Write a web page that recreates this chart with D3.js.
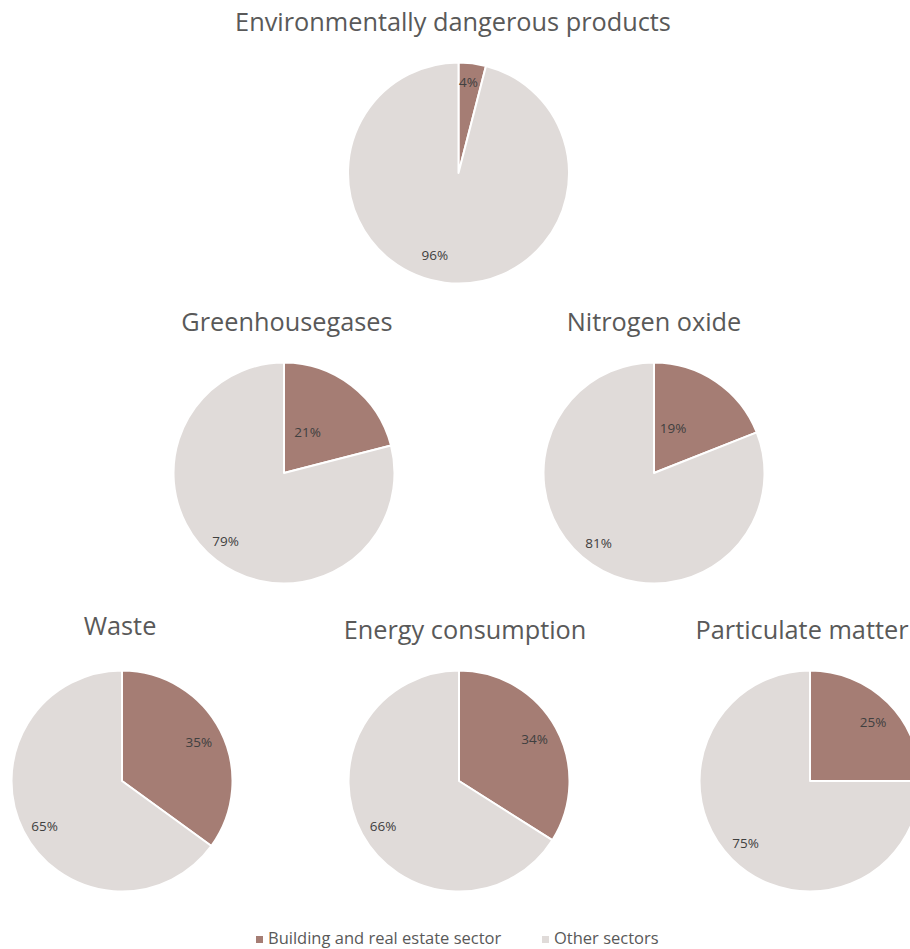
<!DOCTYPE html>
<html>
<head>
<meta charset="utf-8">
<script src="https://cdn.jsdelivr.net/npm/d3@7"></script>
<style>
  html, body { margin: 0; padding: 0; background: #ffffff; }
  svg { display: block; font-family: "Open Sans", "Noto Sans", sans-serif; }
</style>
</head>
<body>
<svg id="chart" width="910" height="949"></svg>
<script>
// Share of emissions / resource use attributed to each sector (percent)
const titles = [
  "Environmentally dangerous products",
  "Greenhousegases",
  "Nitrogen oxide",
  "Waste",
  "Energy consumption",
  "Particulate matter"
];
const buildingShare = [4, 21, 19, 35, 34, 25];
const otherShare = [96, 79, 81, 65, 66, 75];
const seriesNames = ["Building and real estate sector", "Other sectors"];

// Layout: pie centres, title anchors and label placement
const layout = [
  { cx: 458.5, cy: 173, tx: 453, ty: 31 },
  { cx: 284,   cy: 473, tx: 287, ty: 331 },
  { cx: 654,   cy: 473, tx: 654, ty: 331 },
  { cx: 122,   cy: 781, tx: 120, ty: 635 },
  { cx: 459,   cy: 781, tx: 465, ty: 639 },
  { cx: 810,   cy: 781, tx: 802, ty: 639 }
];
const radius = 110.5;
// [radius fraction, angle offset in degrees] for the two labels of each pie
const labelPlace = [
  [[0.83, -1], [0.77, 9]],
  [[0.43, -8], [0.81, 3]],
  [[0.44, -11], [0.81, 4]],
  [[0.78, 0], [0.81, -3]],
  [[0.78, 0], [0.80, -2]],
  [[0.78, 2], [0.81, 1]]
];

const colors = d3.scaleOrdinal().domain(seriesNames).range(["#a57d74", "#e0dbd9"]);
const svg = d3.select("#chart");

const pie = d3.pie().sort(null).value(d => d.value);
const arc = d3.arc().innerRadius(0).outerRadius(radius);

titles.forEach((title, i) => {
  const L = layout[i];
  const data = [
    { name: seriesNames[0], value: buildingShare[i] },
    { name: seriesNames[1], value: otherShare[i] }
  ];
  svg.append("text")
    .attr("x", L.tx).attr("y", L.ty)
    .attr("text-anchor", "middle")
    .attr("font-size", 25.3)
    .attr("fill", "#595959")
    .text(title);

  const g = svg.append("g").attr("transform", `translate(${L.cx},${L.cy})`);
  const arcs = pie(data);
  g.selectAll("path").data(arcs).join("path")
    .attr("d", arc)
    .attr("fill", d => colors(d.data.name))
    .attr("stroke", "#ffffff")
    .attr("stroke-width", 2)
    .attr("stroke-linejoin", "round");

  g.selectAll("text.lbl").data(arcs).join("text")
    .attr("class", "lbl")
    .attr("text-anchor", "middle")
    .attr("dominant-baseline", "central")
    .attr("font-size", 13.5)
    .attr("fill", "#404040")
    .attr("transform", (d, j) => {
      const [f, off] = labelPlace[i][j];
      const a = (d.startAngle + d.endAngle) / 2 + off * Math.PI / 180;
      const r = radius * f;
      return `translate(${Math.sin(a) * r},${-Math.cos(a) * r})`;
    })
    .text(d => d.data.value + "%");
});

// Legend
const legend = svg.append("g").attr("transform", "translate(0,944)");
const legendX = [256, 542];
seriesNames.forEach((name, i) => {
  legend.append("rect")
    .attr("x", legendX[i]).attr("y", -8)
    .attr("width", 7).attr("height", 7)
    .attr("fill", colors(name));
  legend.append("text")
    .attr("x", legendX[i] + 12).attr("y", 0)
    .attr("font-size", 16.5)
    .attr("fill", "#595959")
    .text(name);
});
</script>
</body>
</html>
